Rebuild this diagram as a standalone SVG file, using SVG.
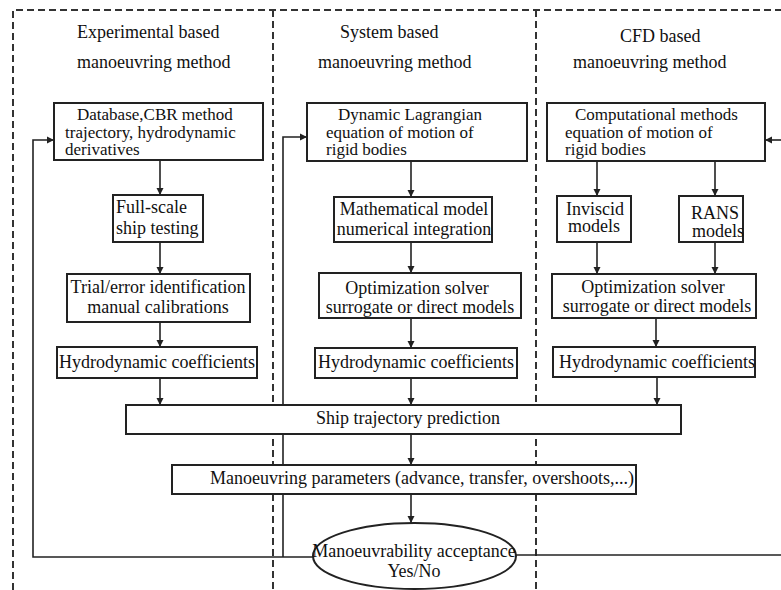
<svg xmlns="http://www.w3.org/2000/svg" width="781" height="590" viewBox="0 0 781 590">
<style>
text{font-family:"Liberation Serif","Times New Roman",serif;font-size:18px;fill:#111}
.t3{font-size:17px}
.box{fill:#fff;stroke:#222;stroke-width:2}
.dash{fill:none;stroke:#333;stroke-width:2;stroke-dasharray:7 4}
.con{fill:none;stroke:#222;stroke-width:1.6}
.c{text-anchor:middle}
</style>
<defs>
<marker id="ah" markerWidth="8" markerHeight="8" refX="7" refY="4" orient="auto" markerUnits="userSpaceOnUse">
<path d="M0,0.5 L7,4 L0,7.5 z" fill="#222"/>
</marker>
</defs>
<rect width="781" height="590" fill="#fff"/>
<g id="frame">
<path class="dash" d="M13,590 V10 H781"/>
<path class="dash" d="M273,10 V590"/>
<path class="dash" d="M536,10 V590"/>
</g>
<g id="titles">
<text x="77" y="38">Experimental based</text>
<text x="77" y="68">manoeuvring method</text>
<text x="340" y="38">System based</text>
<text x="318" y="68">manoeuvring method</text>
<text x="620" y="42">CFD based</text>
<text x="573" y="68">manoeuvring method</text>
</g>
<g id="connectors">
<path class="con" marker-end="url(#ah)" d="M160,161 V195"/>
<path class="con" marker-end="url(#ah)" d="M160,242 V274"/>
<path class="con" marker-end="url(#ah)" d="M160,322 V347"/>
<path class="con" marker-end="url(#ah)" d="M160,378 V405"/>
<path class="con" marker-end="url(#ah)" d="M411,161 V197"/>
<path class="con" marker-end="url(#ah)" d="M411,242 V273"/>
<path class="con" marker-end="url(#ah)" d="M411,318 V348"/>
<path class="con" marker-end="url(#ah)" d="M411,378 V405"/>
<path class="con" marker-end="url(#ah)" d="M597,161 V196"/>
<path class="con" marker-end="url(#ah)" d="M715,161 V196"/>
<path class="con" marker-end="url(#ah)" d="M597,242 V274"/>
<path class="con" marker-end="url(#ah)" d="M715,242 V274"/>
<path class="con" marker-end="url(#ah)" d="M656,318 V347"/>
<path class="con" marker-end="url(#ah)" d="M657,377 V405"/>
<path class="con" marker-end="url(#ah)" d="M411,434 V465"/>
<path class="con" marker-end="url(#ah)" d="M411,494 V523"/>
<path class="con" marker-end="url(#ah)" d="M313,557 H33 V140 H54"/>
<path class="con" marker-end="url(#ah)" d="M283,557 V137 H307"/>
<path class="con" d="M516,555 H781"/>
<path class="con" marker-end="url(#ah)" d="M781,140 H765"/>
</g>
<g id="n-database">
<rect class="box" x="54" y="103" width="209" height="57"/>
<text class="t3" x="77" y="120">Database,CBR method</text>
<text class="t3" x="65" y="138">trajectory, hydrodynamic</text>
<text class="t3" x="65" y="155">derivatives</text>
</g>
<g id="n-fullscale">
<rect class="box" x="113" y="195" width="90" height="47"/>
<text x="116" y="213">Full-scale</text>
<text x="116" y="234">ship testing</text>
</g>
<g id="n-trial">
<rect class="box" x="67" y="274" width="183" height="48"/>
<text class="c" x="158" y="293">Trial/error identification</text>
<text class="c" x="158" y="313">manual calibrations</text>
</g>
<g id="n-hydro1">
<rect class="box" x="57" y="347" width="200" height="31"/>
<text class="c" x="157" y="368">Hydrodynamic coefficients</text>
</g>
<g id="n-dynamic">
<rect class="box" x="307" y="103" width="220" height="58"/>
<text class="t3" x="338" y="120">Dynamic Lagrangian</text>
<text class="t3" x="326" y="138">equation of motion of</text>
<text class="t3" x="326" y="155">rigid bodies</text>
</g>
<g id="n-math">
<rect class="box" x="334" y="197" width="158" height="45"/>
<text class="c" x="414" y="215">Mathematical model</text>
<text class="c" x="414" y="235">numerical integration</text>
</g>
<g id="n-opt2">
<rect class="box" x="319" y="273" width="202" height="45"/>
<text class="c" x="417" y="294">Optimization solver</text>
<text class="c" x="420" y="313">surrogate or direct models</text>
</g>
<g id="n-hydro2">
<rect class="box" x="315" y="348" width="202" height="30"/>
<text class="c" x="416" y="368">Hydrodynamic coefficients</text>
</g>
<g id="n-computational">
<rect class="box" x="547" y="103" width="218" height="58"/>
<text class="t3" x="575" y="120">Computational methods</text>
<text class="t3" x="565" y="138">equation of motion of</text>
<text class="t3" x="565" y="155">rigid bodies</text>
</g>
<g id="n-inviscid">
<rect class="box" x="557" y="196" width="74" height="46"/>
<text class="c" x="595" y="215">Inviscid</text>
<text class="c" x="594" y="232">models</text>
</g>
<g id="n-rans">
<rect class="box" x="679" y="196" width="64" height="46"/>
<text class="c" x="715" y="219">RANS</text>
<text class="c" x="718" y="237">models</text>
</g>
<g id="n-opt3">
<rect class="box" x="552" y="274" width="204" height="44"/>
<text class="c" x="653" y="293">Optimization solver</text>
<text class="c" x="657" y="312">surrogate or direct models</text>
</g>
<g id="n-hydro3">
<rect class="box" x="553" y="347" width="202" height="30"/>
<text class="c" x="657" y="368">Hydrodynamic coefficients</text>
</g>
<g id="n-trajectory">
<rect class="box" x="126" y="405" width="555" height="29"/>
<text class="c" x="408" y="424">Ship trajectory prediction</text>
</g>
<g id="n-params">
<rect class="box" x="172" y="465" width="464" height="29"/>
<text x="210" y="484">Manoeuvring parameters (advance, transfer, overshoots,...)</text>
</g>
<g id="n-acceptance">
<ellipse class="box" cx="414.5" cy="556" rx="101.5" ry="33"/>
<text class="c" x="414" y="557">Manoeuvrability acceptance</text>
<text class="c" x="414" y="577">Yes/No</text>
</g>
</svg>
